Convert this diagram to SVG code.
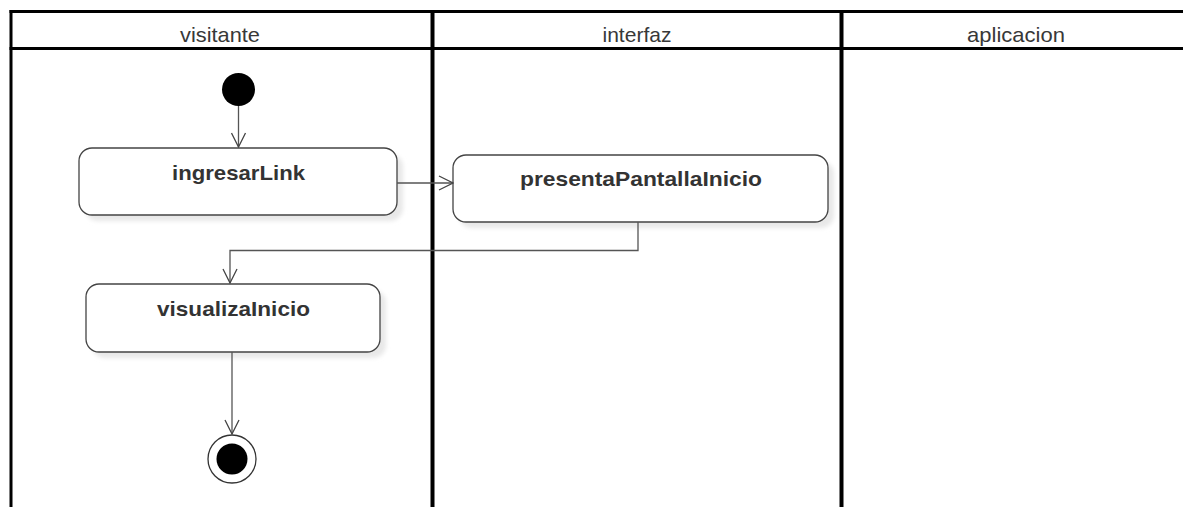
<svg xmlns="http://www.w3.org/2000/svg" width="1186" height="507" viewBox="0 0 1186 507">
  <defs>
    <style>
      .lane { stroke: #000; fill: none; }
      .lane-title { font-family: "Liberation Sans", Arial, sans-serif; font-size: 21px; fill: #383838; text-anchor: middle; }
      .action { fill: #fff; stroke: #444; stroke-width: 1.3; }
      .shadow { fill: #e8e8e8; filter: url(#soft); }
      .action-label { font-family: "Liberation Sans", Arial, sans-serif; font-size: 21px; font-weight: bold; fill: #333; text-anchor: middle; }
      .flow { fill: none; stroke: #555; stroke-width: 1.3; }
    </style>
    <filter id="soft" x="-10%" y="-20%" width="120%" height="140%">
      <feGaussianBlur stdDeviation="2"/>
    </filter>
    <marker id="open-arrow" markerWidth="16" markerHeight="16" refX="15" refY="8" orient="auto" markerUnits="userSpaceOnUse">
      <path d="M1,1 L15,8 L1,15" fill="none" stroke="#444" stroke-width="1.3"/>
    </marker>
  </defs>

  <rect width="1186" height="507" fill="#fff"/>

  <!-- swimlane frame -->
  <g id="lanes">
    <line class="lane" x1="9.5" y1="11.5" x2="1183" y2="11.5" stroke-width="3"/>
    <line class="lane" x1="9.5" y1="48.5" x2="1183" y2="48.5" stroke-width="3"/>
    <line class="lane" x1="11" y1="10" x2="11" y2="507" stroke-width="3"/>
    <line class="lane" x1="432.5" y1="10" x2="432.5" y2="507" stroke-width="4"/>
    <line class="lane" x1="841.5" y1="10" x2="841.5" y2="507" stroke-width="4"/>
    <text class="lane-title" x="220" y="41.5" textLength="80" lengthAdjust="spacingAndGlyphs">visitante</text>
    <text class="lane-title" x="637" y="41.5" textLength="69" lengthAdjust="spacingAndGlyphs">interfaz</text>
    <text class="lane-title" x="1016" y="41.5" textLength="98" lengthAdjust="spacingAndGlyphs">aplicacion</text>
  </g>

  <!-- initial node -->
  <g id="start">
    <circle cx="238.5" cy="89.5" r="16.5" fill="#000"/>
  </g>

  <g id="ingresarLink">
    <rect class="shadow" x="85" y="154" width="318" height="67" rx="13"/>
    <rect class="action" x="79" y="148" width="318" height="67" rx="13"/>
    <text class="action-label" x="238.5" y="180" textLength="133" lengthAdjust="spacingAndGlyphs">ingresarLink</text>
  </g>

  <g id="presentaPantallaInicio">
    <rect class="shadow" x="459" y="161" width="375" height="67" rx="13"/>
    <rect class="action" x="453" y="155" width="375" height="67" rx="13"/>
    <text class="action-label" x="641" y="186" textLength="242" lengthAdjust="spacingAndGlyphs">presentaPantallaInicio</text>
  </g>

  <g id="visualizaInicio">
    <rect class="shadow" x="92" y="290" width="294" height="68" rx="13"/>
    <rect class="action" x="86" y="284" width="294" height="68" rx="13"/>
    <text class="action-label" x="233.5" y="316" textLength="153" lengthAdjust="spacingAndGlyphs">visualizaInicio</text>
  </g>

  <!-- final node -->
  <g id="end">
    <circle cx="232" cy="459" r="24" fill="#fff" stroke="#333" stroke-width="1.3"/>
    <circle cx="232" cy="459" r="15.5" fill="#000"/>
  </g>

  <!-- control flows -->
  <g id="connectors">
    <path class="flow" d="M238.5,106 L238.5,147" marker-end="url(#open-arrow)"/>
    <path class="flow" d="M397,183 L453,183" marker-end="url(#open-arrow)"/>
    <path class="flow" d="M638,222 L638,250.5 L230,250.5 L230,283" marker-end="url(#open-arrow)"/>
    <path class="flow" d="M232,352 L232,434" marker-end="url(#open-arrow)"/>
  </g>
</svg>
